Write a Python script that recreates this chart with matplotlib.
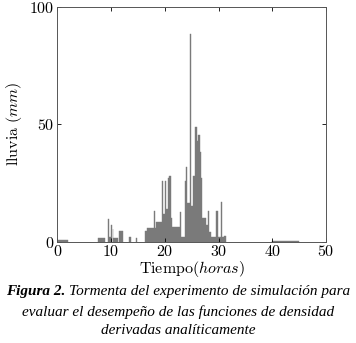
import matplotlib
matplotlib.use("Agg")
import matplotlib.pyplot as plt

# Rain pulses: start hour, duration (h), depth (mm)
starts = [0.0, 7.6, 9.45, 9.6, 10.0, 10.3, 10.45, 11.5, 13.4, 14.7,
          16.3, 16.6, 17.95, 18.1, 18.4, 19.55, 19.75, 19.95, 20.15, 20.55,
          20.8, 21.2, 21.4, 22.9, 23.1, 23.75, 23.95, 24.15, 24.75, 24.9,
          25.3, 25.6, 25.95, 26.25, 26.55, 26.75, 27.0, 27.6, 28.0, 28.2,
          28.5, 29.6, 29.8, 30.5, 30.7, 31.1, 40.0]
widths = [2.0, 1.2, 0.15, 0.35, 0.15, 0.15, 0.8, 0.8, 0.3, 0.2,
          0.3, 1.35, 0.15, 0.3, 1.15, 0.2, 0.2, 0.2, 0.4, 0.25,
          0.4, 0.2, 1.5, 0.2, 0.65, 0.2, 0.2, 0.6, 0.15, 0.4,
          0.3, 0.35, 0.3, 0.3, 0.2, 0.25, 0.6, 0.4, 0.2, 0.3,
          1.1, 0.2, 0.7, 0.2, 0.4, 0.3, 5.0]
rain = [0.8, 1.5, 9.5, 2.0, 7.0, 5.5, 1.5, 4.5, 2.0, 1.5,
        4.7, 5.8, 13.2, 6.0, 8.4, 26.0, 12.0, 26.0, 14.0, 27.0,
        28.0, 10.0, 6.4, 12.8, 2.0, 26.0, 32.0, 16.5, 88.5, 15.0,
        28.0, 48.8, 43.0, 45.5, 38.0, 27.0, 10.0, 7.0, 13.0, 4.0,
        2.0, 13.0, 2.0, 16.8, 2.0, 2.5, 0.5]

x_ticks = [0, 10, 20, 30, 40, 50]
y_ticks = [0, 50, 100]

plt.rcParams['mathtext.fontset'] = 'cm'

fig = plt.figure(figsize=(3.56, 3.43), dpi=100)
ax = fig.add_axes([0.161, 0.2953, 0.755, 0.685])

ax.bar(starts, rain, width=widths, align='edge', color='#7a7a7a',
       edgecolor='#7a7a7a', linewidth=0.3)

ax.set_xlim(0, 50)
ax.set_ylim(0, 100)
ax.set_xticks(x_ticks)
ax.set_yticks(y_ticks)
ax.set_xticklabels([f'${t}$' for t in x_ticks], fontsize=11.5)
ax.set_yticklabels([f'${t}$' for t in y_ticks], fontsize=11.5)
ax.tick_params(direction='in', top=True, right=True, length=3, width=0.6, pad=2)
for s in ax.spines.values():
    s.set_linewidth(0.7)
    s.set_color('#555555')

ax.set_xlabel(r'$\mathrm{Tiempo}(horas)$', fontsize=11.5, labelpad=0)
ax.set_ylabel(r'$\mathrm{lluvia}\ (mm)$', fontsize=11.5, labelpad=4)

# Caption
cap_font = dict(family='Liberation Serif', fontsize=11, style='italic')
y1 = 1 - 291 / 343
t1 = fig.text(0, y1, 'Figura 2.', fontweight='bold', va='center', ha='left', **cap_font)
t2 = fig.text(0, y1, 'Tormenta del experimento de simulación para',
              va='center', ha='left', **cap_font)
fig.canvas.draw()
w1 = t1.get_window_extent().width / fig.bbox.width
w2 = t2.get_window_extent().width / fig.bbox.width
gap = 0.012
x0 = 0.5 - (w1 + gap + w2) / 2
t1.set_x(x0)
t2.set_x(x0 + w1 + gap)
fig.text(0.5, 1 - 312 / 343, 'evaluar el desempeño de las funciones de densidad',
         va='center', ha='center', **cap_font)
fig.text(0.5, 1 - 331 / 343, 'derivadas analíticamente',
         va='center', ha='center', **cap_font)

fig.savefig('out.png', dpi=100)
